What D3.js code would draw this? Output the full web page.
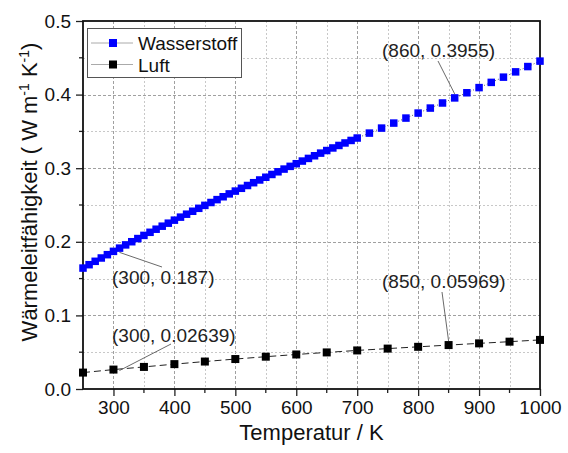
<!DOCTYPE html>
<html><head><meta charset="utf-8">
<script src="https://cdn.jsdelivr.net/npm/d3@7"></script>
<style>body{margin:0;background:#fff}svg{display:block}text{font-family:Arial,"Liberation Sans",sans-serif}</style>
</head><body>
<svg id="c" width="568" height="453"></svg>
<script>
// Data
const h2Temps = [250,260,270,280,290,300,310,320,330,340,350,360,370,380,390,400,410,420,430,440,450,460,470,480,490,500,510,520,530,540,550,560,570,580,590,600,610,620,630,640,650,660,670,680,690,700,720,740,760,780,800,820,840,860,880,900,920,940,960,980,1000];
const h2Values = [0.1643,0.1689,0.1735,0.1780,0.1825,0.1870,0.1914,0.1958,0.2001,0.2044,0.2087,0.2129,0.2171,0.2212,0.2253,0.2294,0.2335,0.2375,0.2415,0.2455,0.2495,0.2534,0.2573,0.2612,0.2651,0.2689,0.2727,0.2765,0.2803,0.2840,0.2877,0.2915,0.2951,0.2988,0.3025,0.3061,0.3097,0.3133,0.3169,0.3205,0.3240,0.3275,0.3309,0.3343,0.3377,0.3410,0.3477,0.3545,0.3613,0.3681,0.3749,0.3817,0.3886,0.3955,0.4025,0.4095,0.4166,0.4237,0.4309,0.4381,0.4455];
const airTemps = [250,300,350,400,450,500,550,600,650,700,750,800,850,900,950,1000];
const airValues = [0.0223,0.02639,0.0300,0.0338,0.0373,0.0407,0.0439,0.0469,0.0497,0.0524,0.0549,0.0573,0.05969,0.0620,0.0643,0.0667];
const seriesNames = ["Wasserstoff","Luft"];
const xTicks = [300,400,500,600,700,800,900,1000];
const yTicks = [0.0,0.1,0.2,0.3,0.4,0.5];
const annotations = [
  {t:860, v:0.3955, label:"(860, 0.3955)"},
  {t:300, v:0.187, label:"(300, 0.187)"},
  {t:300, v:0.02639, label:"(300, 0.02639)"},
  {t:850, v:0.05969, label:"(850, 0.05969)"}
];

const svg = d3.select("#c");
const L=83, R=540, T=21, B=389;
const x = d3.scaleLinear().domain([250,1000]).range([L,R]);
const y = d3.scaleLinear().domain([0,0.5]).range([B,T]);

// grid
const g = svg.append("g");
d3.range(300,1000,50).forEach(v=>{
  const major = v%100===0;
  g.append("line").attr("x1",Math.round(x(v))+0.5).attr("x2",Math.round(x(v))+0.5).attr("y1",T).attr("y2",B)
   .attr("stroke",major?"#a0a0a0":"#c8c8c8").attr("stroke-width",1).attr("stroke-dasharray",major?"3,2":"2,2");
});
d3.range(0.05,0.5,0.05).forEach(v=>{
  const major = Math.abs(v*10-Math.round(v*10))<1e-6;
  g.append("line").attr("y1",Math.round(y(v))+0.5).attr("y2",Math.round(y(v))+0.5).attr("x1",L).attr("x2",R)
   .attr("stroke",major?"#a0a0a0":"#c8c8c8").attr("stroke-width",1).attr("stroke-dasharray",major?"3,2":"2,2");
});

// axes
const xAxis = d3.axisBottom(x).tickValues(xTicks).tickFormat(d3.format("d")).tickSize(7).tickSizeOuter(0).tickPadding(5);
const xa = svg.append("g").attr("transform",`translate(0,${B})`).call(xAxis);
const yAxis = d3.axisLeft(y).tickValues(yTicks).tickFormat(d3.format(".1f")).tickSize(7).tickSizeOuter(0).tickPadding(5);
const ya = svg.append("g").attr("transform",`translate(${L},0)`).call(yAxis);
[xa,ya].forEach(a=>{a.select(".domain").remove();a.selectAll("line").attr("stroke","#222").attr("stroke-width",1.3);
  a.selectAll("text").attr("font-size",19).attr("fill","#111").attr("font-family",'Arial,"Liberation Sans",sans-serif');});
// minor ticks
d3.range(350,1000,100).forEach(v=>svg.append("line").attr("x1",x(v)).attr("x2",x(v)).attr("y1",B).attr("y2",B+4).attr("stroke","#222").attr("stroke-width",1.3));
d3.range(0.05,0.5,0.1).forEach(v=>svg.append("line").attr("y1",y(v)).attr("y2",y(v)).attr("x1",L).attr("x2",L-4).attr("stroke","#222").attr("stroke-width",1.3));

// frame
svg.append("rect").attr("x",L).attr("y",T).attr("width",R-L).attr("height",B-T).attr("fill","none").attr("stroke","#111").attr("stroke-width",1.8);

// series
const airData = airTemps.map((t,i)=>[t,airValues[i]]);
const h2Data = h2Temps.map((t,i)=>[t,h2Values[i]]);
const line = d3.line().x(d=>x(d[0])).y(d=>y(d[1]));
svg.append("path").attr("d",line(airData)).attr("fill","none").attr("stroke","#222").attr("stroke-width",1).attr("stroke-dasharray","7,4");
svg.append("path").attr("d",line(h2Data)).attr("fill","none").attr("stroke","#333").attr("stroke-width",0.8).attr("stroke-dasharray","1,2");
svg.append("g").selectAll("rect").data(h2Data).join("rect")
  .attr("x",d=>x(d[0])-3.75).attr("y",d=>y(d[1])-3.75).attr("width",7.5).attr("height",7.5).attr("fill","#0000ff");
svg.append("g").selectAll("rect").data(airData).join("rect")
  .attr("x",d=>x(d[0])-4).attr("y",d=>y(d[1])-4).attr("width",8).attr("height",8).attr("fill","#000");

// annotations
const annPos = [
  {tx:382, ty:56.5, lx:438, ly:61},
  {tx:112, ty:284, lx:162, ly:267},
  {tx:112, ty:341.5, lx:171, ly:344},
  {tx:382, ty:288, lx:442, ly:292}
];
annotations.forEach((a,i)=>{
  const p = annPos[i];
  svg.append("line").attr("x1",p.lx).attr("y1",p.ly).attr("x2",x(a.t)+(i===1||i===2?6:0)).attr("y2",y(a.v)-(i===0||i===3?4:-1))
    .attr("stroke","#444").attr("stroke-width",0.8);
  svg.append("text").attr("x",p.tx).attr("y",p.ty).attr("font-size",19).attr("fill","#222").text(a.label);
});

// legend
const lg = svg.append("g");
lg.append("rect").attr("x",87.5).attr("y",28.5).attr("width",154).attr("height",49).attr("fill","#fff").attr("stroke","#555").attr("stroke-width",1);
const legColors = ["#0000ff","#000"];
seriesNames.forEach((n,i)=>{
  const yy = 43 + i*21.5;
  lg.append("line").attr("x1",91).attr("x2",133).attr("y1",yy).attr("y2",yy).attr("stroke","#aaa").attr("stroke-width",1);
  lg.append("rect").attr("x",109).attr("y",yy-4).attr("width",8).attr("height",8).attr("fill",legColors[i]);
  lg.append("text").attr("x",138).attr("y",yy+7).attr("font-size",19).attr("fill","#111").text(n);
});

// axis titles
svg.append("text").attr("x",(L+R)/2).attr("y",440).attr("text-anchor","middle").attr("font-size",22).attr("fill","#111").text("Temperatur / K");
const yt = svg.append("text").attr("transform","translate(37,192) rotate(-90)").attr("text-anchor","middle").attr("font-size",22).attr("fill","#111");
yt.append("tspan").text("Wärmeleitfähigkeit ( W m");
yt.append("tspan").attr("font-size",14).attr("dy",-8).text("-1");
yt.append("tspan").attr("dy",8).text(" K");
yt.append("tspan").attr("font-size",14).attr("dy",-8).text("-1");
yt.append("tspan").attr("dy",8).text(")");
</script>
</body></html>
